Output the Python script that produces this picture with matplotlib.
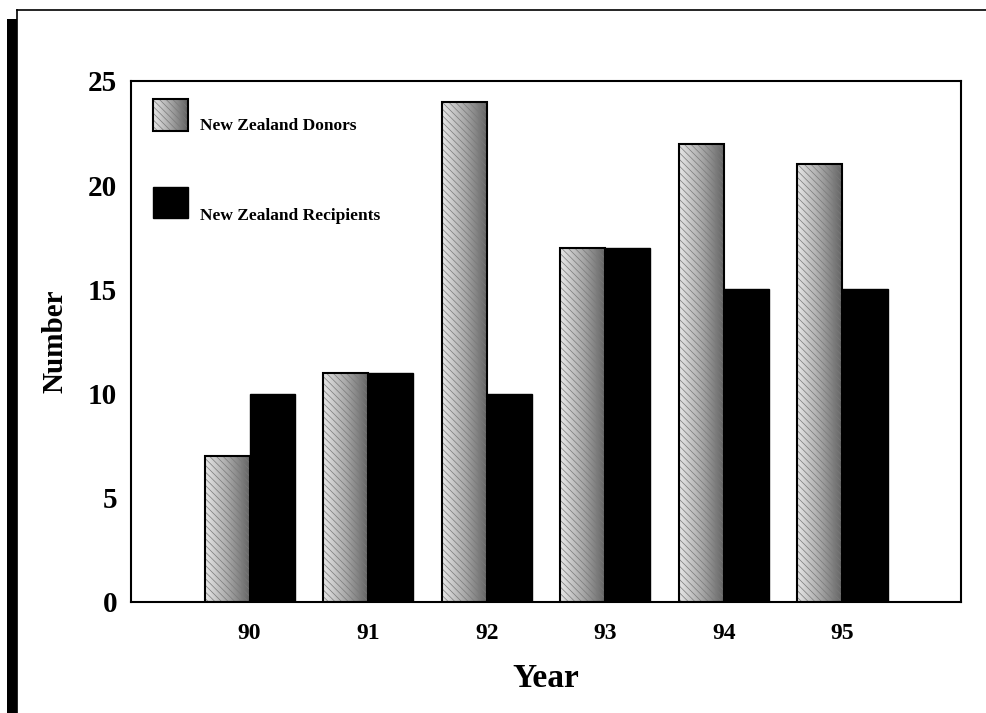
import numpy as np
import matplotlib
matplotlib.use('Agg')
import matplotlib.pyplot as plt
from matplotlib.colors import LinearSegmentedColormap
from matplotlib.patches import Rectangle
from matplotlib.lines import Line2D

# data
years = ['90', '91', '92', '93', '94', '95']
donors = [7, 11, 24, 17, 22, 21]
recipients = [10, 11, 10, 17, 15, 15]
yticks = [0, 5, 10, 15, 20, 25]

plt.rcParams['font.family'] = ['Liberation Serif', 'DejaVu Serif']
plt.rcParams['font.weight'] = 'bold'
plt.rcParams['hatch.linewidth'] = 0.5

fig = plt.figure(figsize=(9.86, 7.13), dpi=100)
ax = fig.add_axes([0.1329, 0.1557, 0.8418, 0.7307])

# light-to-dark grey shading used for the donor bars
shade = LinearSegmentedColormap.from_list('shade', ['#e6e6e6', '#a8a8a8', '#626262'])
grad = np.linspace(0, 1, 64).reshape(1, -1)

x = np.arange(len(years))
w = 0.38

dbars = ax.bar(x - w / 2, donors, width=w, color='none',
               edgecolor='black', linewidth=1.5, zorder=3)
ax.bar(x - w / 2, donors, width=w, color='none', edgecolor='#7a7a7a',
       linewidth=0, hatch='\\\\\\\\\\', zorder=2.5)
for b in dbars:
    im = ax.imshow(grad, cmap=shade, aspect='auto', zorder=2,
                   extent=(b.get_x(), b.get_x() + b.get_width(), 0, b.get_height()))
    im.set_clip_path(b)

ax.bar(x + w / 2, recipients, width=w, color='black',
       edgecolor='black', linewidth=1, zorder=3)

ax.set_xticks(x)
ax.set_xticklabels(years, fontsize=17, fontweight='bold')
ax.set_yticks(yticks)
ax.set_yticklabels([str(t) for t in yticks], fontsize=21, fontweight='bold')
ax.tick_params(axis='both', length=0)
ax.tick_params(axis='x', pad=15)
ax.tick_params(axis='y', pad=10)
for s in ax.spines.values():
    s.set_linewidth(1.5)

ax.set_xlabel('Year', fontsize=24, fontweight='bold', labelpad=14)
ax.set_ylabel('Number', fontsize=21, fontweight='bold', labelpad=14)

# legend drawn by hand to match the original placement
leg_don = Rectangle((0.0265, 0.904), 0.042, 0.0615, transform=ax.transAxes,
                    facecolor='none', edgecolor='black', linewidth=1.5, zorder=4)
ax.add_patch(leg_don)
lim = ax.imshow(grad, cmap=shade, aspect='auto', zorder=3,
                extent=(0.0265, 0.0685, 0.904, 0.9655), transform=ax.transAxes)
lim.set_clip_path(leg_don)
ax.add_patch(Rectangle((0.0265, 0.904), 0.042, 0.0615, transform=ax.transAxes,
                       facecolor='none', edgecolor='#7a7a7a', linewidth=0,
                       hatch='\\\\\\\\\\', zorder=3.5))
ax.add_patch(Rectangle((0.0265, 0.737), 0.042, 0.0595, transform=ax.transAxes,
                       facecolor='black', edgecolor='black', zorder=4))
ax.text(0.083, 0.906, 'New Zealand Donors', transform=ax.transAxes,
        fontsize=12.5, fontweight='bold', va='baseline')
ax.text(0.083, 0.733, 'New Zealand Recipients', transform=ax.transAxes,
        fontsize=12.5, fontweight='bold', va='baseline')

ax.set_xlim(-1, 6)
ax.set_ylim(0, 25)

# page frame: thin top/left rule and thick black bar on the left
W, H = 986.0, 713.0
fig.add_artist(Line2D([17 / W, 1.0], [1 - 9.5 / H, 1 - 9.5 / H], color='black', lw=1.2))
fig.add_artist(Line2D([17 / W, 17 / W], [1 - 9.5 / H, 0], color='black', lw=1.2))
fig.add_artist(Rectangle((7 / W, 0), 10 / W, 1 - 19 / H, transform=fig.transFigure,
                         facecolor='black', edgecolor='none'))

fig.savefig('out.png', dpi=100)
